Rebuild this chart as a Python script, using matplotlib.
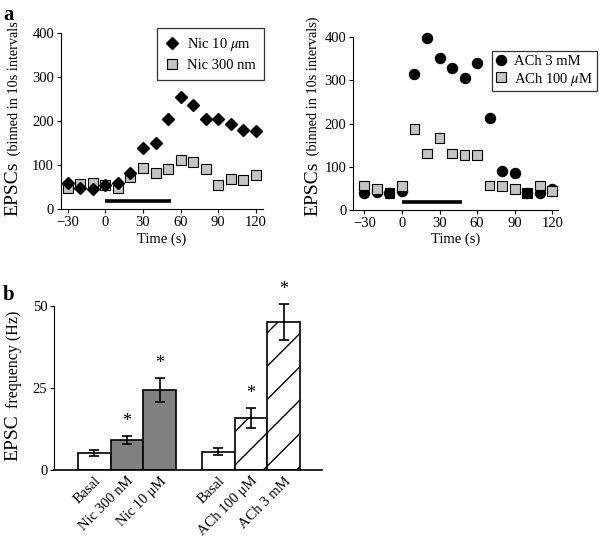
import matplotlib
matplotlib.use("Agg")
import matplotlib.pyplot as plt
import numpy as np

plt.rcParams['font.family'] = ['Liberation Serif', 'DejaVu Serif']
plt.rcParams['mathtext.fontset'] = 'stix'
plt.rcParams['hatch.linewidth'] = 1.0

# ---- Data ----
time_s = [-30, -20, -10, 0, 10, 20, 30, 40, 50, 60, 70, 80, 90, 100, 110, 120]
nic_10um = [60, 48, 46, 55, 60, 82, 140, 150, 205, 256, 236, 205, 205, 195, 180, 178]
nic_300nm = [48, 57, 60, 55, 49, 74, 93, 82, 91, 112, 108, 92, 55, 68, 66, 78]
ach_3mm = [39, 41, 39, 45, 315, 399, 351, 328, 305, 341, 214, 91, 85, 40, 39, 49]
ach_100um = [57, 49, 39, 56, 188, 131, 166, 131, 127, 128, 57, 56, 48, 40, 57, 44]
ach_100um_overlap = [False, False, True, False, False, False, False, False, False,
                     False, False, False, False, True, False, False]
nic_app = [0, 52]
ach_app = [0, 48]

bar_labels = ["Basal", "Nic 300 nM", "Nic 10 μM", "Basal", "ACh 100 μM", "ACh 3 mM"]
bar_values = [5.2, 9.2, 24.4, 5.6, 16.0, 45.1]
bar_errors = [1.0, 1.2, 3.7, 1.1, 3.0, 5.5]
bar_sig = [False, True, True, False, True, True]
bar_pos = [0, 1, 2, 3.8, 4.8, 5.8]
bar_fill = ["white", "#808080", "#808080", "white", "white", "white"]
bar_hatch = [None, None, None, None, "/", "/"]

W, H = 600, 541
fig = plt.figure(figsize=(6, 5.41), dpi=100)

def ax_rect(l, r, top, bottom):
    return [l / W, 1 - bottom / H, (r - l) / W, (bottom - top) / H]

gray = "#c4c4c4"

def style(ax):
    for s in ['top', 'right']:
        ax.spines[s].set_visible(False)
    ax.tick_params(direction='out', length=3, labelsize=10.5, width=0.8, pad=2)

# ---- Panel a left ----
ax1 = fig.add_axes(ax_rect(61, 263, 33.3, 209.3))
ax1.plot(time_s, nic_10um, 'D', color='black', ms=6.5, label=r"Nic 10 $\mu$m", zorder=3)
ax1.plot(time_s, nic_300nm, 's', mfc=gray, mec='black', mew=0.8, ms=7, label="Nic 300 nm", zorder=2)
ax1.plot(nic_app, [20, 20], color='black', lw=2.6, solid_capstyle='butt')
ax1.set_xlim(-35.3, 125.6)
ax1.set_ylim(0, 400)
ax1.set_xticks([-30, 0, 30, 60, 90, 120])
ax1.set_yticks([0, 100, 200, 300, 400])
ax1.set_xlabel("Time (s)", fontsize=10.5, labelpad=2)
style(ax1)
leg1 = ax1.legend(loc='upper right', bbox_to_anchor=(1.005, 1.03), borderaxespad=0,
                  frameon=True, fancybox=False, edgecolor='black', fontsize=10.5,
                  handlelength=0.9, handletextpad=0.6, borderpad=0.55, labelspacing=0.4)
leg1.get_frame().set_linewidth(0.9)

# ---- Panel a right ----
ax2 = fig.add_axes(ax_rect(353.3, 558.3, 37.3, 210))
ax2.plot(time_s, ach_3mm, 'o', color='black', ms=7.2, label="ACh 3 mM", zorder=2, clip_on=False)
sq_fc = ['black' if o else gray for o in ach_100um_overlap]
ax2.plot([], [], 's', mfc=gray, mec='black', mew=0.8, ms=7, label=r"ACh 100 $\mu$M")
ax2.scatter(time_s, ach_100um, marker='s', s=49, c=sq_fc, edgecolors='black', linewidths=0.8, zorder=3)
ax2.plot(ach_app, [18, 18], color='black', lw=2.6, solid_capstyle='butt')
ax2.set_xlim(-38.8, 124.8)
ax2.set_ylim(0, 400)
ax2.set_xticks([-30, 0, 30, 60, 90, 120])
ax2.set_yticks([0, 100, 200, 300, 400])
ax2.set_xlabel("Time (s)", fontsize=10.5, labelpad=2)
style(ax2)
leg2 = ax2.legend(loc='upper right', bbox_to_anchor=(1.189, 0.922), borderaxespad=0,
                  frameon=True, fancybox=False, edgecolor='black', fontsize=10.5,
                  handlelength=0.8, handletextpad=0.5, borderpad=0.25, labelspacing=0.2)
leg2.get_frame().set_linewidth(0.9)

# ---- Panel b ----
ax3 = fig.add_axes(ax_rect(54.3, 321.7, 305.7, 470.3))
for p, v, e, fc, h, sig in zip(bar_pos, bar_values, bar_errors, bar_fill, bar_hatch, bar_sig):
    ax3.bar(p, v, width=1.0, color=fc, edgecolor='black', linewidth=1.2, hatch=h, zorder=2)
    ax3.errorbar(p, v, yerr=e, color='black', capsize=3.5, elinewidth=1.2, capthick=1.2,
                 zorder=3, clip_on=False)
    if sig:
        ax3.annotate("*", (p, v + e), xytext=(0, 7), textcoords='offset points',
                     ha='center', va='baseline', fontsize=13, annotation_clip=False)
ax3.set_xlim(-1.22, 6.96)
ax3.set_ylim(0, 50)
ax3.set_yticks([0, 25, 50])
ax3.set_xticks(bar_pos)
ax3.set_xticklabels(bar_labels, rotation=45, ha='right', rotation_mode='anchor', fontsize=10)
style(ax3)
ax3.tick_params(axis='x', length=0, pad=3)
ax3.spines['bottom'].set_linewidth(1.2)

# ---- composite y-labels ----
def comp_label(x_px, y_px, big, small, bigsize, smallsize):
    t1 = fig.text(x_px / W, 1 - y_px / H, big, rotation=90, rotation_mode='anchor',
                  ha='left', va='baseline', fontsize=bigsize)
    fig.canvas.draw()
    bb = t1.get_window_extent()
    t2 = fig.text(x_px / W, (bb.y1 + 2) / H, small, rotation=90, rotation_mode='anchor',
                  ha='left', va='baseline', fontsize=smallsize)
    return t1, t2

comp_label(17.5, 216, "EPSCs", " (binned in 10s intervals", 14, 10.3)
comp_label(317, 216, "EPSCs", " (binned in 10s intervals)", 14, 10.3)
comp_label(17.5, 461, "EPSC", " frequency (Hz)", 14, 11.5)

fig.text(3 / W, 1 - 20 / H, "a", fontsize=15, fontweight='bold', ha='left', va='baseline')
fig.text(3 / W, 1 - 300 / H, "b", fontsize=15, fontweight='bold', ha='left', va='baseline')

fig.savefig("out.png", dpi=100)
